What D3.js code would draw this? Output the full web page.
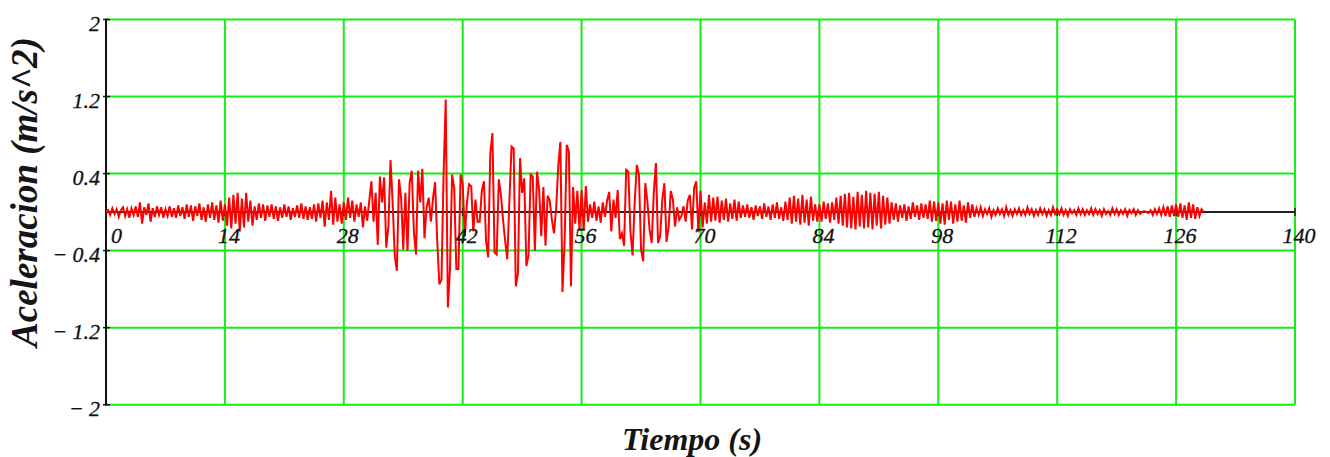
<!DOCTYPE html>
<html>
<head>
<meta charset="utf-8">
<script src="https://cdn.jsdelivr.net/npm/d3@7"></script>
<style>
  html, body { margin: 0; padding: 0; background: #fff; }
  svg { display: block; }
</style>
</head>
<body>
<div id="chart"></div>
<script>
// tick labels
const xTicks = [0, 14, 28, 42, 56, 70, 84, 98, 112, 126, 140];
const yTicks = [2, 1.2, 0.4, -0.4, -1.2, -2];

// acceleration record (m/s^2), one sample every 0.25 s in 14 s blocks
const dt = 0.25;
const acc0 = [0.00, 0.02, -0.03, 0.04, -0.02, 0.03, -0.05, 0.02, 0.05, -0.04,
  0.03, -0.06, 0.04, -0.03, 0.06, -0.05, 0.10, -0.12, 0.05, -0.03,
  0.09, -0.10, 0.04, -0.05, 0.06, -0.03, 0.05, -0.06, 0.03, -0.04,
  0.06, -0.05, 0.04, -0.06, 0.07, -0.04, 0.05, -0.07, 0.08, -0.05,
  0.07, -0.09, 0.06, -0.04, 0.09, -0.08, 0.05, -0.10, 0.08, -0.06,
  0.10, -0.08, 0.07, -0.11, 0.12, -0.09];
const acc14 = [0.08, -0.14, 0.15, -0.17, 0.18, -0.12, 0.20, -0.20, 0.14, -0.16,
  0.20, -0.10, 0.12, -0.14, 0.06, -0.08, 0.09, -0.06, 0.08, -0.09,
  0.07, -0.05, 0.08, -0.07, 0.06, -0.09, 0.05, -0.06, 0.08, -0.05,
  0.06, -0.08, 0.04, -0.05, 0.07, -0.06, 0.09, -0.07, 0.06, -0.08,
  0.05, -0.07, 0.08, -0.10, 0.09, -0.06, 0.12, -0.15, 0.10, -0.08,
  0.22, -0.13, 0.15, -0.10, 0.08, -0.12];
const acc28 = [0.10, -0.08, 0.15, -0.06, 0.12, -0.10, 0.08, -0.05, 0.10, -0.16,
  0.06, -0.09, 0.12, 0.32, -0.10, 0.20, -0.34, 0.37, 0.10, 0.36,
  -0.37, -0.15, 0.54, 0.10, -0.45, -0.61, 0.34, 0.15, -0.39, 0.20,
  -0.40, 0.30, 0.43, -0.20, -0.44, 0.43, 0.10, 0.45, -0.27, 0.05,
  0.15, -0.10, 0.14, 0.31, -0.30, -0.75, -0.70, 0.40, 1.17, -0.99,
  -0.60, 0.39, 0.25, -0.59, -0.59, 0.39];
const acc42 = [0.29, -0.25, 0.10, 0.29, 0.27, -0.20, 0.13, -0.10, -0.10, 0.22,
  0.32, -0.30, -0.47, 0.61, 0.82, -0.42, -0.44, 0.34, 0.18, -0.08,
  -0.30, -0.49, 0.12, 0.68, 0.66, -0.77, -0.64, 0.56, 0.20, 0.35,
  -0.56, -0.45, 0.39, 0.37, -0.40, 0.42, 0.23, -0.25, 0.26, -0.35,
  0.17, 0.12, -0.08, -0.22, 0.03, 0.48, 0.73, -0.83, -0.30, 0.70,
  0.63, -0.77, 0.26, -0.12, 0.22, -0.18];
const acc56 = [0.23, -0.18, 0.27, -0.10, 0.08, -0.06, 0.11, -0.09, 0.06, -0.11,
  0.10, -0.05, 0.12, 0.21, -0.20, 0.13, -0.06, 0.23, -0.28, -0.22,
  -0.35, 0.44, 0.42, -0.20, -0.45, 0.10, 0.49, 0.39, -0.39, -0.51,
  0.30, 0.11, -0.18, -0.32, 0.20, 0.51, -0.32, -0.25, 0.13, 0.30,
  -0.31, -0.15, 0.22, 0.13, -0.15, 0.05, -0.08, -0.04, 0.06, -0.10,
  0.12, 0.18, -0.18, 0.25, 0.32, -0.21];
const acc70 = [0.22, -0.16, 0.10, -0.12, 0.18, -0.10, 0.15, -0.09, 0.16, -0.11,
  0.12, -0.08, 0.14, -0.10, 0.09, -0.07, 0.13, -0.09, 0.11, -0.06,
  0.07, -0.05, 0.08, -0.06, 0.05, -0.08, 0.07, -0.04, 0.06, -0.07,
  0.09, -0.05, 0.06, -0.08, 0.08, -0.06, 0.10, -0.07, 0.05, -0.09,
  0.11, -0.08, 0.15, -0.12, 0.17, -0.10, 0.14, -0.13, 0.18, -0.11,
  0.13, -0.14, 0.16, -0.09, 0.08, -0.10];
const acc84 = [0.08, -0.10, 0.11, -0.07, 0.09, -0.11, 0.10, -0.08, 0.15, -0.12,
  0.17, -0.14, 0.19, -0.16, 0.20, -0.17, 0.16, -0.18, 0.21, -0.15,
  0.18, -0.17, 0.22, -0.16, 0.20, -0.18, 0.19, -0.14, 0.21, -0.17,
  0.17, -0.13, 0.15, -0.12, 0.10, -0.08, 0.09, -0.10, 0.07, -0.06,
  0.08, -0.09, 0.06, -0.07, 0.10, -0.05, 0.07, -0.08, 0.09, -0.06,
  0.08, -0.07, 0.12, -0.10, 0.11, -0.09];
const acc98 = [0.10, -0.12, 0.09, -0.13, 0.12, -0.08, 0.11, -0.12, 0.08, -0.10,
  0.12, -0.09, 0.07, -0.11, 0.10, -0.06, 0.08, -0.05, 0.04, -0.03,
  0.05, -0.04, 0.03, -0.02, 0.04, -0.05, 0.02, -0.03, 0.04, -0.02,
  0.03, -0.04, 0.05, -0.03, 0.02, -0.04, 0.03, -0.02, 0.04, -0.03,
  0.02, -0.03, 0.05, -0.02, 0.03, -0.04, 0.02, -0.03, 0.04, -0.02,
  0.03, -0.04, 0.02, -0.03, 0.05, -0.02];
const acc112 = [0.03, -0.02, 0.04, -0.03, 0.02, -0.04, 0.03, -0.01, 0.02, -0.03,
  0.04, -0.02, 0.03, -0.03, 0.02, -0.02, 0.04, -0.03, 0.03, -0.02,
  0.02, -0.04, 0.03, -0.02, 0.01, -0.03, 0.04, -0.02, 0.03, -0.03,
  0.02, -0.02, 0.03, -0.04, 0.02, -0.01, 0.03, -0.03, 0.02, -0.02,
  0.00, 0.01, 0.00, -0.01, 0.02, -0.03, 0.03, -0.02, 0.04, -0.03,
  0.05, -0.04, 0.06, -0.05, 0.07, -0.04];
const acc126 = [0.08, -0.05, 0.09, -0.06, 0.07, -0.08, 0.10, -0.06, 0.08, -0.07,
  0.05, -0.04, 0.03, 0.00];

const acc = [].concat(acc0, acc14, acc28, acc42, acc56, acc70, acc84, acc98, acc112, acc126);
const series = acc.map((a, i) => ({ t: i * dt, a: a }));

const width = 1330, height = 457;
const svg = d3.select('#chart').append('svg')
  .attr('width', width)
  .attr('height', height);

const x = d3.scaleLinear().domain([0, 140]).range([106, 1295]);
const y = d3.scaleLinear().domain([-2, 2]).range([404.7, 19.5]);

const gridColor = '#14ee14';
const font = "'Liberation Serif', 'Times New Roman', serif";

// grid
svg.append('g').selectAll('line')
  .data(yTicks)
  .enter().append('line')
  .attr('x1', x(0)).attr('x2', x(140))
  .attr('y1', d => y(d)).attr('y2', d => y(d))
  .attr('stroke', gridColor).attr('stroke-width', 2);

svg.append('g').selectAll('line')
  .data(xTicks.filter(d => d > 0))
  .enter().append('line')
  .attr('x1', d => x(d)).attr('x2', d => x(d))
  .attr('y1', y(2)).attr('y2', y(-2))
  .attr('stroke', gridColor).attr('stroke-width', 2);

// axes
svg.append('line')
  .attr('x1', x(0)).attr('x2', x(0))
  .attr('y1', y(2) - 1).attr('y2', y(-2) + 1)
  .attr('stroke', '#111').attr('stroke-width', 2);

svg.append('line')
  .attr('x1', x(0)).attr('x2', x(140))
  .attr('y1', y(0)).attr('y2', y(0))
  .attr('stroke', '#222').attr('stroke-width', 2);

svg.append('g').selectAll('line')
  .data(yTicks)
  .enter().append('line')
  .attr('x1', x(0) - 3).attr('x2', x(0) + 4)
  .attr('y1', d => y(d)).attr('y2', d => y(d))
  .attr('stroke', '#111').attr('stroke-width', 1.5);

svg.append('g').selectAll('line')
  .data(xTicks)
  .enter().append('line')
  .attr('x1', d => x(d)).attr('x2', d => x(d))
  .attr('y1', y(0) - 4).attr('y2', y(0) + 4)
  .attr('stroke', '#222').attr('stroke-width', 1.5);

// trace
const line = d3.line()
  .x(d => x(d.t))
  .y(d => y(d.a));

svg.append('path')
  .datum(series)
  .attr('d', line)
  .attr('fill', 'none')
  .attr('stroke', '#ff0000')
  .attr('stroke-width', 2);

// tick labels
const fmt = d => d < 0 ? '\u2212 ' + Math.abs(d) : String(d);

svg.append('g').selectAll('text')
  .data(yTicks)
  .enter().append('text')
  .attr('x', x(0) - 6)
  .attr('y', d => y(d) + 11)
  .attr('text-anchor', 'end')
  .style('font-family', font)
  .style('font-style', 'italic')
  .style('font-size', '22px')
  .style('fill', '#111')
  .style('stroke', '#111')
  .style('stroke-width', 0.3)
  .text(fmt);

svg.append('g').selectAll('text')
  .data(xTicks)
  .enter().append('text')
  .attr('x', d => d === 0 ? x(d) + 5 : x(d) + 4)
  .attr('y', y(0) + 31)
  .attr('text-anchor', d => d === 0 ? 'start' : 'middle')
  .style('font-family', font)
  .style('font-style', 'italic')
  .style('font-size', '22px')
  .style('fill', '#111')
  .style('stroke', '#111')
  .style('stroke-width', 0.3)
  .text(d => d);

// axis titles
svg.append('text')
  .attr('transform', 'translate(37,192) rotate(-90)')
  .attr('text-anchor', 'middle')
  .style('font-family', font)
  .style('font-style', 'italic')
  .style('font-weight', 'bold')
  .style('font-size', '37px')
  .style('fill', '#151515')
  .text('Aceleracion (m/s^2)');

svg.append('text')
  .attr('x', 692)
  .attr('y', 450)
  .attr('text-anchor', 'middle')
  .style('font-family', font)
  .style('font-style', 'italic')
  .style('font-weight', 'bold')
  .style('font-size', '32px')
  .style('fill', '#151515')
  .text('Tiempo (s)');
</script>
</body>
</html>
